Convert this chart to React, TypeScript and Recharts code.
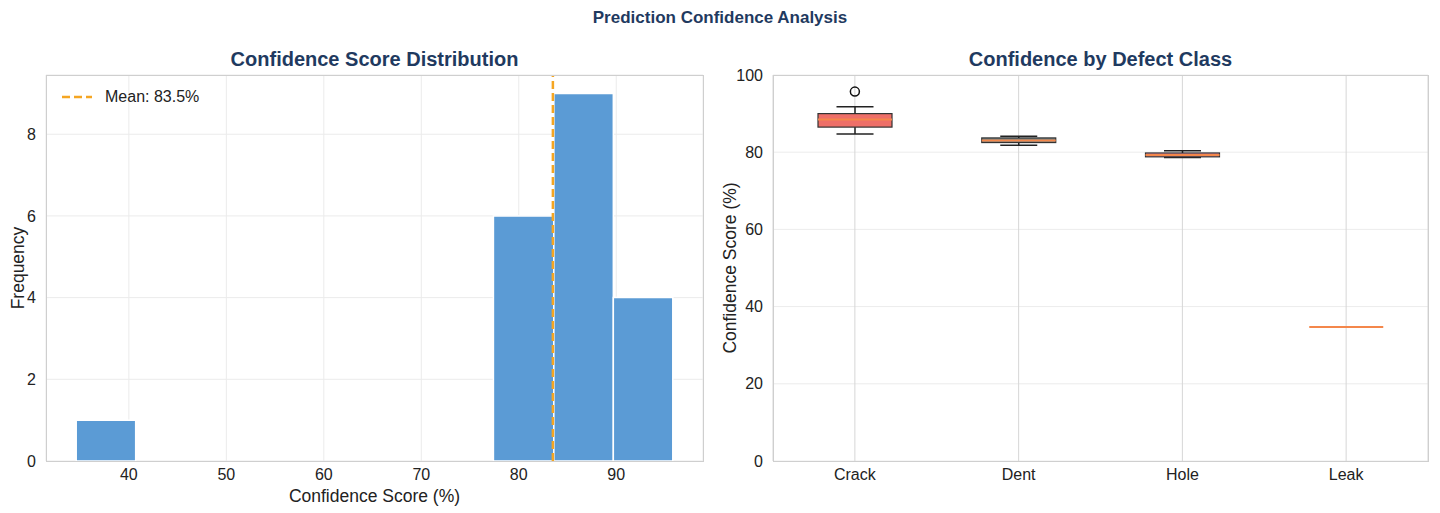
import React from 'react';
import {
  ComposedChart,
  Bar,
  Scatter,
  XAxis,
  YAxis,
  CartesianGrid,
  ReferenceArea,
  ReferenceLine
} from 'recharts';

// histogram of confidence scores
const binEdges = [34.6, 40.7, 46.8, 53.0, 59.1, 65.2, 71.3, 77.4, 83.6, 89.7, 95.8];
const binCounts = [1, 0, 0, 0, 0, 0, 0, 6, 9, 4];
const meanScore = 83.5;
const histXTicks = [40, 50, 60, 70, 80, 90];
const histYTicks = [0, 2, 4, 6, 8];

// box plot per defect class
const classes = ['Crack', 'Dent', 'Hole', 'Leak'];
const mins = [84.7, 81.8, 78.6, 34.7];
const q1s = [86.5, 82.5, 78.8, 34.7];
const medians = [88.5, 83.0, 79.3, 34.7];
const q3s = [90.0, 83.7, 79.8, 34.7];
const maxs = [91.8, 84.1, 80.4, 34.7];
const outliers = [95.7, null, null, null];
const boxYTicks = [0, 20, 40, 60, 80, 100];

const BOX_COLORS = ['#ee6f68', '#748486', '#e98aa0', '#f39c5a'];
const TITLE_COLOR = '#1f3a60';
const FONT = '"Liberation Sans", Arial, sans-serif';
const TICK = { fill: '#222', fontSize: 16, fontFamily: FONT };
const AXIS_LABEL = { fontSize: 17.5, fontFamily: FONT, fill: '#222' };

const histData = binCounts.map((count, i) => ({ x0: binEdges[i], x1: binEdges[i + 1], count }));

const boxData = classes.map((name, i) => ({
  name,
  base: mins[i],
  lowWhisker: q1s[i] - mins[i],
  box: q3s[i] - q1s[i],
  highWhisker: maxs[i] - q3s[i],
  q1: q1s[i],
  q3: q3s[i],
  median: medians[i],
  outlier: outliers[i],
  color: BOX_COLORS[i]
}));

const LowWhisker = (props: any) => {
  const { x, y, width, height } = props;
  if (!height) return null;
  const cx = x + width / 2;
  return (
    <g stroke="#222" strokeWidth={1.5}>
      <line x1={cx} x2={cx} y1={y} y2={y + height} />
      <line x1={cx - width / 4} x2={cx + width / 4} y1={y + height} y2={y + height} />
    </g>
  );
};

const HighWhisker = (props: any) => {
  const { x, y, width, height } = props;
  if (!height) return null;
  const cx = x + width / 2;
  return (
    <g stroke="#222" strokeWidth={1.5}>
      <line x1={cx} x2={cx} y1={y} y2={y + height} />
      <line x1={cx - width / 4} x2={cx + width / 4} y1={y} y2={y} />
    </g>
  );
};

const BoxShape = (props: any) => {
  const { x, y, width, height, payload } = props;
  const span = payload.q3 - payload.q1;
  const my = span > 0 ? y + (height * (payload.q3 - payload.median)) / span : y;
  return (
    <g>
      {height > 0 && (
        <rect x={x} y={y} width={width} height={height} fill={payload.color} stroke="#333" strokeWidth={1.2} />
      )}
      <line x1={x} x2={x + width} y1={my} y2={my} stroke="#f4874b" strokeWidth={2} />
    </g>
  );
};

const OutlierDot = (props: any) => {
  const { cx, cy } = props;
  if (cx == null || cy == null) return null;
  return <circle cx={cx} cy={cy} r={4.5} fill="none" stroke="#111" strokeWidth={1.5} />;
};

const titleStyle: React.CSSProperties = {
  position: 'absolute',
  fontFamily: FONT,
  fontWeight: 'bold',
  color: TITLE_COLOR,
  textAlign: 'center'
};

const frame = (left: number, top: number, width: number, height: number): React.CSSProperties => ({
  position: 'absolute',
  left,
  top,
  width,
  height,
  border: '1.5px solid #cfcfcf',
  boxSizing: 'border-box',
  pointerEvents: 'none'
});

export default function App() {
  return (
    <div style={{ position: 'absolute', left: 0, top: 0, width: 1440, height: 513, background: '#fff', overflow: 'hidden' }}>
      <div style={{ ...titleStyle, left: 0, top: 8, width: 1440, fontSize: 17 }}>Prediction Confidence Analysis</div>
      <div style={{ ...titleStyle, left: 46, top: 48, width: 657, fontSize: 20 }}>Confidence Score Distribution</div>
      <div style={{ ...titleStyle, left: 773, top: 48, width: 655, fontSize: 20 }}>Confidence by Defect Class</div>

      <div style={{ position: 'absolute', left: 0, top: 0 }}>
        <ComposedChart width={720} height={513} data={histData} margin={{ top: 75, right: 17, bottom: 7, left: 6 }}>
          <CartesianGrid stroke="#ebebeb" vertical horizontal />
          <XAxis
            type="number"
            dataKey="x0"
            domain={[31.5, 98.9]}
            ticks={histXTicks}
            allowDataOverflow
            tickLine={false}
            axisLine={false}
            tick={TICK}
            height={45}
            tickMargin={2}
            label={{ value: 'Confidence Score (%)', position: 'insideBottom', offset: 4, style: AXIS_LABEL }}
          />
          <YAxis
            type="number"
            domain={[0, 9.45]}
            ticks={histYTicks}
            allowDataOverflow
            tickLine={false}
            axisLine={false}
            tick={TICK}
            width={40}
            tickMargin={4}
            label={{ value: 'Frequency', angle: -90, position: 'insideLeft', offset: 12, style: { ...AXIS_LABEL, textAnchor: 'middle' } }}
          />
          {histData.filter((d) => d.count > 0).map((d) => (
            <ReferenceArea
              key={d.x0}
              x1={d.x0}
              x2={d.x1}
              y1={0}
              y2={d.count}
              fill="#5b9bd5"
              fillOpacity={1}
              stroke="#ffffff"
              strokeWidth={1.5}
              ifOverflow="visible"
            />
          ))}
          <ReferenceLine x={meanScore} stroke="#f5a623" strokeWidth={2.5} strokeDasharray="8 4" />
        </ComposedChart>
      </div>
      <div style={frame(46, 75, 658, 387)} />
      <div
        style={{
          position: 'absolute',
          left: 60,
          top: 88,
          display: 'flex',
          alignItems: 'center',
          fontFamily: FONT,
          fontSize: 16,
          color: '#222'
        }}
      >
        <svg width={34} height={10} style={{ marginRight: 11 }}>
          <line x1={2} x2={32} y1={5} y2={5} stroke="#f5a623" strokeWidth={2.5} strokeDasharray="8 4" />
        </svg>
        Mean: {meanScore}%
      </div>

      <div style={{ position: 'absolute', left: 720, top: 0 }}>
        <ComposedChart width={720} height={513} data={boxData} margin={{ top: 75, right: 12, bottom: 7, left: 8 }}>
          <CartesianGrid stroke="#ececec" vertical={false} />
          <CartesianGrid stroke="#d6d6d6" horizontal={false} />
          <XAxis
            dataKey="name"
            type="category"
            tickLine={false}
            axisLine={false}
            tick={TICK}
            height={45}
            tickMargin={2}
          />
          <YAxis
            type="number"
            domain={[0, 100]}
            ticks={boxYTicks}
            allowDataOverflow
            tickLine={false}
            axisLine={false}
            tick={TICK}
            width={45}
            tickMargin={4}
            label={{ value: 'Confidence Score (%)', angle: -90, position: 'insideLeft', offset: 2, style: { ...AXIS_LABEL, textAnchor: 'middle' } }}
          />
          <Bar dataKey="base" stackId="b" fill="none" barSize={74} isAnimationActive={false} />
          <Bar dataKey="lowWhisker" stackId="b" barSize={74} shape={LowWhisker} isAnimationActive={false} />
          <Bar dataKey="box" stackId="b" barSize={74} shape={BoxShape} isAnimationActive={false} />
          <Bar dataKey="highWhisker" stackId="b" barSize={74} shape={HighWhisker} isAnimationActive={false} />
          <Scatter dataKey="outlier" shape={OutlierDot} isAnimationActive={false} />
        </ComposedChart>
      </div>
      <div style={frame(773, 75, 656, 387)} />
    </div>
  );
}
